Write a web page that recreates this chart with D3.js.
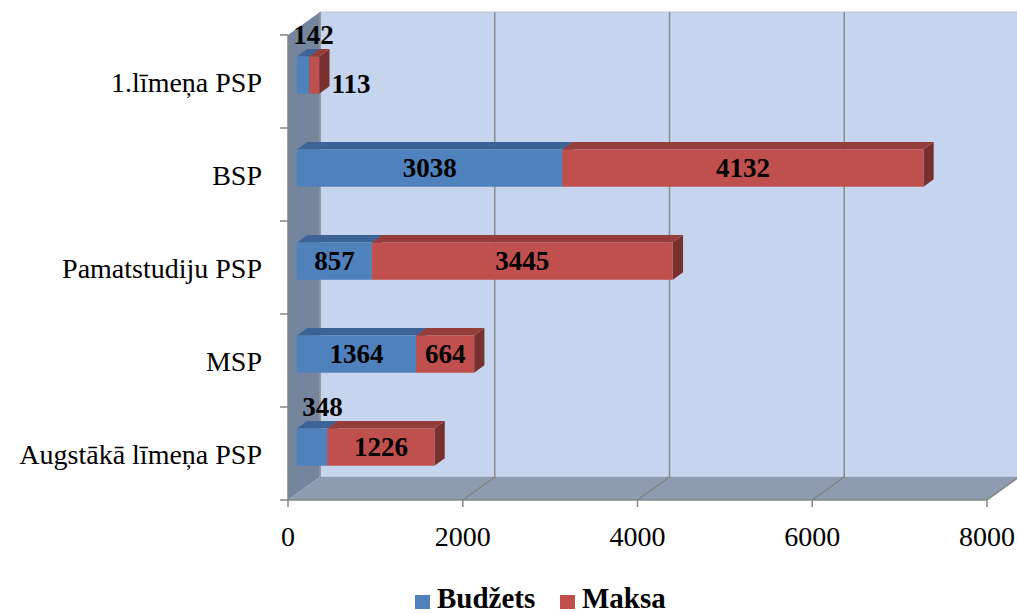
<!DOCTYPE html>
<html>
<head>
<meta charset="utf-8">
<script src="https://cdn.jsdelivr.net/npm/d3@7"></script>
<style>
  body { margin: 0; background: #fff; }
</style>
</head>
<body>
<svg id="svg" width="1017" height="613"></svg>
<script>
var categories = ["1.līmeņa PSP", "BSP", "Pamatstudiju PSP", "MSP", "Augstākā līmeņa PSP"];
var budzets = [142, 3038, 857, 1364, 348];
var maksa = [113, 4132, 3445, 664, 1226];
var ticks = [0, 2000, 4000, 6000, 8000];
var seriesNames = ["Budžets", "Maksa"];

var svg = d3.select("#svg")
    .attr("font-family", "'Liberation Serif', 'DejaVu Serif', serif");

// front plane scales
var x = d3.scaleLinear().domain([0, 8000]).range([288, 987]);
var y = d3.scaleBand().domain(categories).range([35, 500])
    .paddingInner(0.6).paddingOuter(0.3);

// depth of the box: shift for d in [0,1]
var DX = 32, DY = -23;
var barD0 = 0.28, barD1 = 0.6;

function P(xp, yp, d) { return [xp + DX * d, yp + DY * d]; }
function poly(pts) { return "M" + pts.map(function(p){ return p.join(","); }).join("L") + "Z"; }

var yTop = y.range()[0], yBot = y.range()[1];
var x0 = x(0), x1 = x(8000);

// side wall
svg.append("path")
  .attr("d", poly([P(x0, yTop, 0), P(x0, yTop, 1), P(x0, yBot, 1), P(x0, yBot, 0)]))
  .attr("fill", "#75859e");
// back wall
svg.append("path")
  .attr("d", poly([P(x0, yTop, 1), P(x1, yTop, 1), P(x1, yBot, 1), P(x0, yBot, 1)]))
  .attr("fill", "#c6d4ee").attr("stroke", "#b8c3d6").attr("stroke-width", 1);
// floor
svg.append("path")
  .attr("d", poly([P(x0, yBot, 0), P(x0, yBot, 1), P(x1, yBot, 1), P(x1, yBot, 0)]))
  .attr("fill", "#8f9bb0");

// gridlines on back wall and floor
ticks.forEach(function(t) {
  var b = P(x(t), yBot, 1), tp = P(x(t), yTop, 1), f = P(x(t), yBot, 0);
  if (t > 0 && t < 8000) {
    svg.append("line").attr("x1", b[0]).attr("y1", b[1]).attr("x2", tp[0]).attr("y2", tp[1])
      .attr("stroke", "#8a8a8a").attr("stroke-width", 1.5);
  }
  if (t > 0) {
    svg.append("line").attr("x1", f[0]).attr("y1", f[1]).attr("x2", b[0]).attr("y2", b[1])
      .attr("stroke", "#808080").attr("stroke-width", 1.5);
  }
});
svg.append("line").attr("x1", P(x0, yTop, 1)[0]).attr("y1", P(x0, yTop, 1)[1])
  .attr("x2", P(x0, yBot, 1)[0]).attr("y2", P(x0, yBot, 1)[1])
  .attr("stroke", "#8a8a8a").attr("stroke-width", 1.5);

// axes lines
svg.append("line").attr("x1", x0).attr("y1", yTop).attr("x2", x0).attr("y2", yBot)
  .attr("stroke", "#868686").attr("stroke-width", 1.5);
svg.append("line").attr("x1", x0).attr("y1", yBot).attr("x2", x1).attr("y2", yBot)
  .attr("stroke", "#868686").attr("stroke-width", 1.5);

// y ticks at band boundaries
var step = y.step();
d3.range(categories.length + 1).forEach(function(i) {
  var yy = yTop + i * step;
  svg.append("line").attr("x1", x0 - 8).attr("y1", yy).attr("x2", x0).attr("y2", yy)
    .attr("stroke", "#868686").attr("stroke-width", 1.5);
});
// x ticks + labels
ticks.forEach(function(t) {
  svg.append("line").attr("x1", x(t)).attr("y1", yBot).attr("x2", x(t)).attr("y2", yBot + 7)
    .attr("stroke", "#868686").attr("stroke-width", 1.5);
  svg.append("text").attr("x", x(t)).attr("y", 546).attr("text-anchor", "middle")
    .attr("font-size", 28).attr("fill", "#000").text(t);
});

// category labels
categories.forEach(function(c, i) {
  svg.append("text").attr("x", 262).attr("y", yTop + (i + 0.5) * step + 10)
    .attr("text-anchor", "end").attr("font-size", 28).attr("fill", "#000").text(c);
});

// bars
var colors = [
  { front: "#4f81bd", top: "#3b6396", side: "#2f5078" },
  { front: "#c0504d", top: "#953d3a", side: "#78302e" }
];

function drawBox(g, v0, v1, c, col) {
  var a = x(v0), b = x(v1), t = y(c), bt = t + y.bandwidth();
  g.append("path").attr("d", poly([P(b, t, barD0), P(b, t, barD1), P(b, bt, barD1), P(b, bt, barD0)]))
    .attr("fill", col.side);
  g.append("path").attr("d", poly([P(a, t, barD0), P(a, t, barD1), P(b, t, barD1), P(b, t, barD0)]))
    .attr("fill", col.top);
  g.append("path").attr("d", poly([P(a, t, barD0), P(b, t, barD0), P(b, bt, barD0), P(a, bt, barD0)]))
    .attr("fill", col.front);
}

var gBars = svg.append("g");
categories.forEach(function(c, i) {
  var vals = [budzets[i], maksa[i]];
  var start = 0;
  vals.forEach(function(v, s) {
    drawBox(gBars, start, start + v, c, colors[s]);
    start += v;
  });
});

// data labels
var gLab = svg.append("g").attr("font-size", 27).attr("font-weight", "bold").attr("fill", "#000");
categories.forEach(function(c, i) {
  var vals = [budzets[i], maksa[i]];
  var start = 0;
  var t = y(c), bt = t + y.bandwidth();
  vals.forEach(function(v, s) {
    var a = x(start), b = x(start + v);
    var fc = P((a + b) / 2, (t + bt) / 2, barD0);
    var tx, ty, anchor = "middle";
    if (b - a > 45) {
      tx = fc[0]; ty = fc[1] + 9;
    } else if (s === 0) {
      // small segment: label above the bar
      var tp = P((a + b) / 2, t, barD1);
      tx = tp[0]; ty = tp[1] - 5;
    } else {
      // small segment: label right of the bar
      var sd = P(b, (t + bt) / 2, barD1);
      tx = sd[0] + 2; ty = fc[1] + 18; anchor = "start";
    }
    gLab.append("text").attr("x", tx).attr("y", ty).attr("text-anchor", anchor).text(v);
    start += v;
  });
});

// legend
var legend = svg.append("g").attr("font-size", 29).attr("font-weight", "bold");
var legX = [415, 560];
seriesNames.forEach(function(n, i) {
  legend.append("rect").attr("x", legX[i]).attr("y", 595).attr("width", 15).attr("height", 14)
    .attr("fill", colors[i].front);
  legend.append("text").attr("x", legX[i] + 22).attr("y", 608).text(n);
});
</script>
</body>
</html>
